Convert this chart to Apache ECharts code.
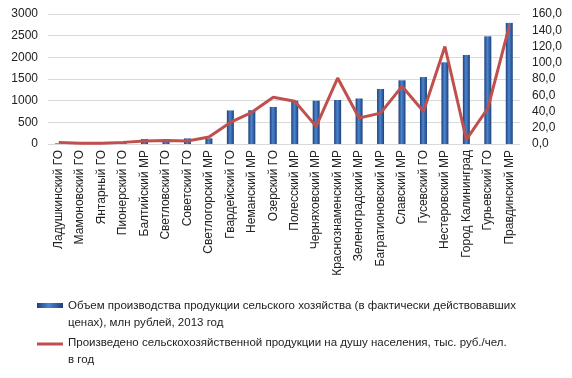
<!DOCTYPE html>
<html>
<head>
<meta charset="utf-8">
<script src="https://cdn.jsdelivr.net/npm/echarts@6/dist/echarts.min.js"></script>
<style>
  html, body { margin: 0; padding: 0; background: #fff; }
  #chart { width: 572px; height: 378px; }
</style>
</head>
<body>
<div id="chart"></div>
<script>
const districts = [
  "Ладушкинский ГО", "Мамоновский ГО", "Янтарный ГО", "Пионерский ГО", "Балтийский МР",
  "Светловский ГО", "Советский ГО", "Светлогорский МР", "Гвардейский ГО", "Неманский МР",
  "Озерский ГО", "Полесский МР", "Черняховский МР", "Краснознаменский МР", "Зеленоградский МР",
  "Багратионовский МР", "Славский МР", "Гусевский ГО", "Нестеровский МР", "Город Калининград",
  "Гурьевский ГО", "Правдинский МР"
];
// млн рублей
const volume = [15, 10, 10, 20, 115, 115, 130, 130, 775, 780, 855, 1000, 1000, 1015, 1050, 1270, 1470, 1545, 1885, 2055, 2485, 2795];
// тыс. руб./чел.
const perCapita = [2.0, 1.0, 1.0, 2.0, 3.7, 4.4, 3.7, 8.6, 26.6, 39, 57.5, 52.5, 21.7, 81.2, 32, 38, 71, 40, 120, 5.3, 44, 145];

const barName = "Объем производства продукции сельского хозяйства (в фактически действовавших\nценах), млн рублей, 2013 год";
const lineName = "Произведено сельскохозяйственной продукции на душу населения, тыс. руб./чел.\nв год";

// legend icons sit at the first text line, so the paths span the whole item height
const barIcon = "path://M0,6L26,6L26,11L0,11Z M0,0L0.1,0L0.1,0.1Z M0,34L0.1,34L0.1,33.9Z";
const lineIcon = "path://M0,8.5L26,8.5L26,11.5L0,11.5Z M0,0L0.1,0L0.1,0.1Z M0,34L0.1,34L0.1,33.9Z";

const chart = echarts.init(document.getElementById("chart"));
const font = "Liberation Sans";
chart.setOption({
  animation: false,
  grid: { left: 48, right: 52, top: 14, bottom: 234 },
  legend: {
    orient: "vertical",
    left: 37, top: 297, height: 80, padding: 0,
    itemWidth: 26, itemHeight: 34, itemGap: 3,
    data: [
      { name: barName, icon: barIcon },
      { name: lineName, icon: lineIcon }
    ],
    textStyle: { fontFamily: font, fontSize: 11.5, color: "#222", lineHeight: 17 }
  },
  xAxis: {
    type: "category",
    data: districts,
    axisLine: { show: false },
    axisTick: { show: false },
    axisLabel: { rotate: 90, interval: 0, fontFamily: font, fontSize: 12, color: "#222", margin: 6 }
  },
  yAxis: [
    {
      type: "value", min: 0, max: 3000, interval: 500,
      axisLabel: { fontFamily: font, fontSize: 12, color: "#222", margin: 10, formatter: (v) => String(v) },
      splitLine: { lineStyle: { color: "#d9d9d9", width: 1 } }
    },
    {
      type: "value", min: 0, max: 160, interval: 20,
      axisLabel: { fontFamily: font, fontSize: 12, color: "#222", margin: 12, formatter: (v) => v.toFixed(1).replace(".", ",") },
      splitLine: { show: false }
    }
  ],
  series: [
    {
      name: barName, type: "bar", data: volume, barWidth: 7,
      itemStyle: {
        color: new echarts.graphic.LinearGradient(0, 0, 1, 0, [
          { offset: 0, color: "#1f3f7a" },
          { offset: 0.45, color: "#4a86d0" },
          { offset: 1, color: "#1f3f7a" }
        ])
      }
    },
    {
      name: lineName, type: "line", yAxisIndex: 1, data: perCapita, symbol: "none",
      lineStyle: { color: "#c0504d", width: 3 },
      itemStyle: { color: "#c0504d" }
    }
  ]
});
</script>
</body>
</html>
